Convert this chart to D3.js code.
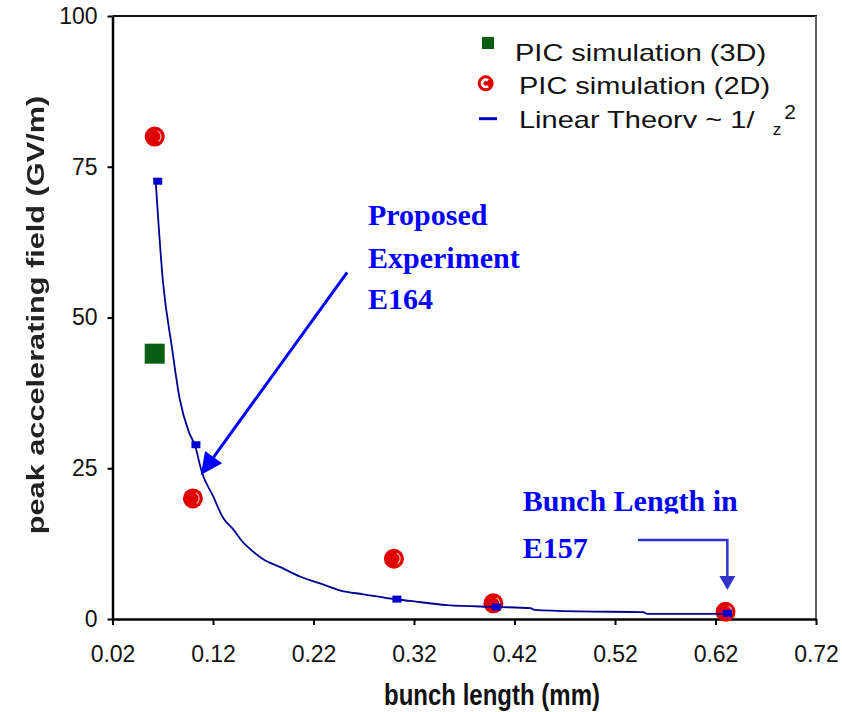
<!DOCTYPE html>
<html>
<head>
<meta charset="utf-8">
<script src="https://cdn.jsdelivr.net/npm/d3@7"></script>
<style>
  body { margin: 0; background: #fff; }
  text { font-family: "Liberation Sans", Arial, sans-serif; }
</style>
</head>
<body>
<svg id="chart" width="842" height="712"></svg>
<script>
// PIC simulation results (bunch length in mm, peak field in GV/m)
var pic3dX = [0.062];
var pic3dY = [44];
var pic2dX = [0.062, 0.100, 0.300, 0.399, 0.630];
var pic2dY = [80, 20, 10, 2.6, 1.2];

// linear theory ~ 1/sigma_z^2, traced curve and its marked points
var theoryX = [0.063, 0.070, 0.079, 0.087, 0.096, 0.102, 0.109, 0.120, 0.130, 0.140, 0.150, 0.157, 0.170, 0.187,
               0.207, 0.230, 0.247, 0.270, 0.296, 0.316, 0.353, 0.402, 0.436, 0.440, 0.485, 0.548, 0.552, 0.631];
var theoryY = [72.6, 56.3, 45.2, 36.4, 31.0, 28.8, 24.3, 20.4, 16.8, 14.9, 12.7, 11.6, 9.9, 8.6,
               7.0, 5.7, 4.7, 4.1, 3.4, 3.0, 2.3, 2.0, 1.8, 1.5, 1.25, 1.15, 0.85, 0.85];
var theoryPtX = [0.065, 0.103, 0.303, 0.402, 0.632];
var theoryPtY = [72.6, 28.9, 3.3, 2.0, 0.95];

var xTicks = [0.02, 0.12, 0.22, 0.32, 0.42, 0.52, 0.62, 0.72];
var yTicks = [0, 25, 50, 75, 100];

var legendLabels = ["PIC simulation (3D)", "PIC simulation (2D)", "Linear Theory ~ 1/ "];
var noteE164 = ["Proposed", "Experiment", "E164"];
var noteE157 = ["Bunch Length in", "E157"];

var svg = d3.select("#chart");
var plotLeft = 112.5, plotRight = 816, plotTop = 16, plotBottom = 619;

var x = d3.scaleLinear().domain([0.02, 0.72]).range([plotLeft, plotRight]);
var y = d3.scaleLinear().domain([0, 100]).range([plotBottom, plotTop]);

// frame: top and right edges
svg.append("line").attr("x1", plotLeft).attr("x2", plotRight + 1).attr("y1", plotTop).attr("y2", plotTop)
  .attr("stroke", "#111").attr("stroke-width", 2);
svg.append("line").attr("x1", plotRight).attr("x2", plotRight).attr("y1", plotTop).attr("y2", plotBottom)
  .attr("stroke", "#666").attr("stroke-width", 2);

var yAxis = svg.append("g")
  .attr("transform", "translate(" + plotLeft + ",0)")
  .call(d3.axisLeft(y).tickValues(yTicks).tickSize(5).tickSizeOuter(0).tickPadding(10));
var xAxis = svg.append("g")
  .attr("transform", "translate(0," + plotBottom + ")")
  .call(d3.axisBottom(x).tickValues(xTicks).tickSize(6).tickSizeOuter(0).tickPadding(22)
    .tickFormat(d3.format(".2f")));

[xAxis, yAxis].forEach(function(a) {
  a.select(".domain").attr("stroke", "#000").attr("stroke-width", 2.5);
  a.selectAll(".tick line").attr("stroke", "#000").attr("stroke-width", 2);
  a.selectAll(".tick text").attr("fill", "#111").style("font-size", "23px")
    .style("font-family", "'Liberation Sans', Arial, sans-serif");
});
xAxis.selectAll(".tick text").attr("dy", "0.71em").attr("y", 27);

// axis titles
svg.append("text")
  .attr("transform", "translate(44,315) rotate(-90) scale(1.28,1)")
  .attr("text-anchor", "middle")
  .style("font-size", "24px").style("font-weight", "bold").attr("fill", "#222")
  .style("filter", "blur(0.5px)")
  .text("peak accelerating field (GV/m)");

svg.append("text")
  .attr("transform", "translate(492,705) scale(1,1.25)")
  .attr("text-anchor", "middle")
  .style("font-size", "24px").style("font-weight", "bold").attr("fill", "#111")
  .text("bunch length (mm)");

// marker helpers
var glint = d3.arc().innerRadius(5.6).outerRadius(6.8).startAngle(0.5).endAngle(2.5);

function redDot(g, cx, cy, r) {
  g.append("circle").attr("cx", cx).attr("cy", cy).attr("r", r).attr("fill", "#e00000");
}

// PIC 2D
var dots2d = svg.append("g");
pic2dX.forEach(function(v, i) {
  redDot(dots2d, x(v), y(pic2dY[i]), 10);
  dots2d.append("path").attr("d", glint())
    .attr("transform", "translate(" + x(v) + "," + y(pic2dY[i]) + ")")
    .attr("fill", "#fff").attr("opacity", 0.7);
});

// PIC 3D
svg.append("g").selectAll("rect").data(pic3dX).enter().append("rect")
  .attr("x", function(d) { return x(d) - 10; })
  .attr("y", function(d, i) { return y(pic3dY[i]) - 10; })
  .attr("width", 20).attr("height", 20)
  .attr("fill", "#0a5e14");

// linear theory curve
var line = d3.line()
  .curve(d3.curveMonotoneX)
  .x(function(d) { return x(d[0]); })
  .y(function(d) { return y(d[1]); });
svg.append("path")
  .datum(d3.zip(theoryX, theoryY))
  .attr("d", line)
  .attr("fill", "none").attr("stroke", "#000090").attr("stroke-width", 1.8);

svg.append("g").selectAll("rect").data(d3.zip(theoryPtX, theoryPtY)).enter().append("rect")
  .attr("x", function(d) { return x(d[0]) - 4.5; })
  .attr("y", function(d) { return y(d[1]) - 3.5; })
  .attr("width", 9).attr("height", 7)
  .attr("fill", "#0000cc");

// legend
var defs = svg.append("defs");
defs.append("clipPath").attr("id", "legClip")
  .append("rect").attr("x", 500).attr("y", 0).attr("width", 340).attr("height", 128);
defs.append("clipPath").attr("id", "noteClip")
  .append("rect").attr("x", 500).attr("y", 470).attr("width", 340).attr("height", 43.5);

var legend = svg.append("g");
legend.append("rect").attr("x", 482).attr("y", 37).attr("width", 12).attr("height", 12).attr("fill", "#0a5e14");
redDot(legend, 485.7, 83.3, 8);
legend.append("path")
  .attr("d", d3.arc().innerRadius(2.3).outerRadius(5).startAngle(Math.PI * 0.78).endAngle(Math.PI * 2.22)())
  .attr("transform", "translate(485.7,83.3)").attr("fill", "#fff");
legend.append("line").attr("x1", 479).attr("x2", 497).attr("y1", 118.7).attr("y2", 118.7)
  .attr("stroke", "#0000cc").attr("stroke-width", 3);

var legPos = [[515, 60.7], [519, 94], [519, 127.5]];
legendLabels.forEach(function(t, i) {
  legend.append("g").attr("clip-path", i === 2 ? "url(#legClip)" : null)
    .append("text")
    .attr("transform", "translate(" + legPos[i][0] + "," + legPos[i][1] + ") scale(1.26,1)")
    .style("font-size", "23px").attr("fill", "#111")
    .text(t);
});
legend.append("text").attr("x", 777).attr("y", 135).attr("text-anchor", "middle")
  .style("font-size", "17px").attr("fill", "#111").text("z");
legend.append("text").attr("x", 790).attr("y", 118.5).attr("text-anchor", "middle")
  .style("font-size", "21px").attr("fill", "#111").text("2");

// annotations
function noteText(g, lines, x0, baselines) {
  lines.forEach(function(t, i) {
    g.append("text").attr("x", x0).attr("y", baselines[i])
      .style("font-family", "'Liberation Serif', 'Times New Roman', serif")
      .style("font-size", "30px").style("font-weight", "bold")
      .attr("fill", "#0000ff").text(t);
  });
}
noteText(svg.append("g"), noteE164, 368, [225, 268, 309]);
var e157 = svg.append("g");
noteText(e157.append("g").attr("clip-path", "url(#noteClip)"), noteE157.slice(0, 1), 522.7, [510.7]);
noteText(e157, noteE157.slice(1), 522.7, [558]);

function arrowHead(g, x1, y1, x2, y2, len, half, color) {
  var dx = x2 - x1, dy = y2 - y1, d = Math.sqrt(dx * dx + dy * dy);
  var ux = dx / d, uy = dy / d;
  var bx = x2 - ux * len, by = y2 - uy * len;
  g.append("path")
    .attr("d", "M" + x2 + "," + y2 + "L" + (bx - uy * half) + "," + (by + ux * half) +
      "L" + (bx + uy * half) + "," + (by - ux * half) + "Z")
    .attr("fill", color);
  return [bx, by];
}

// arrow to the E164 point on the curve
var a1 = { x0: 0.2535, y0: 57.5, x1: 0.1078, y1: 23.9 };
var arrow1 = svg.append("g");
var base1 = arrowHead(arrow1, x(a1.x0), y(a1.y0), x(a1.x1), y(a1.y1), 22, 10.5, "#0000ff");
arrow1.append("line").attr("x1", x(a1.x0)).attr("y1", y(a1.y0))
  .attr("x2", base1[0]).attr("y2", base1[1])
  .attr("stroke", "#0000ff").attr("stroke-width", 3);

// elbow arrow to the E157 bunch length
var a2 = { x0: 0.5428, xc: 0.6318, yc: 13.1, y1: 4.8 };
var arrow2 = svg.append("g");
var base2 = arrowHead(arrow2, x(a2.xc), y(a2.yc), x(a2.xc), y(a2.y1), 14, 8, "#3333cc");
arrow2.append("path")
  .attr("d", "M" + x(a2.x0) + "," + y(a2.yc) + "H" + x(a2.xc) + "V" + base2[1])
  .attr("fill", "none").attr("stroke", "#3333cc").attr("stroke-width", 2.5);
</script>
</body>
</html>
